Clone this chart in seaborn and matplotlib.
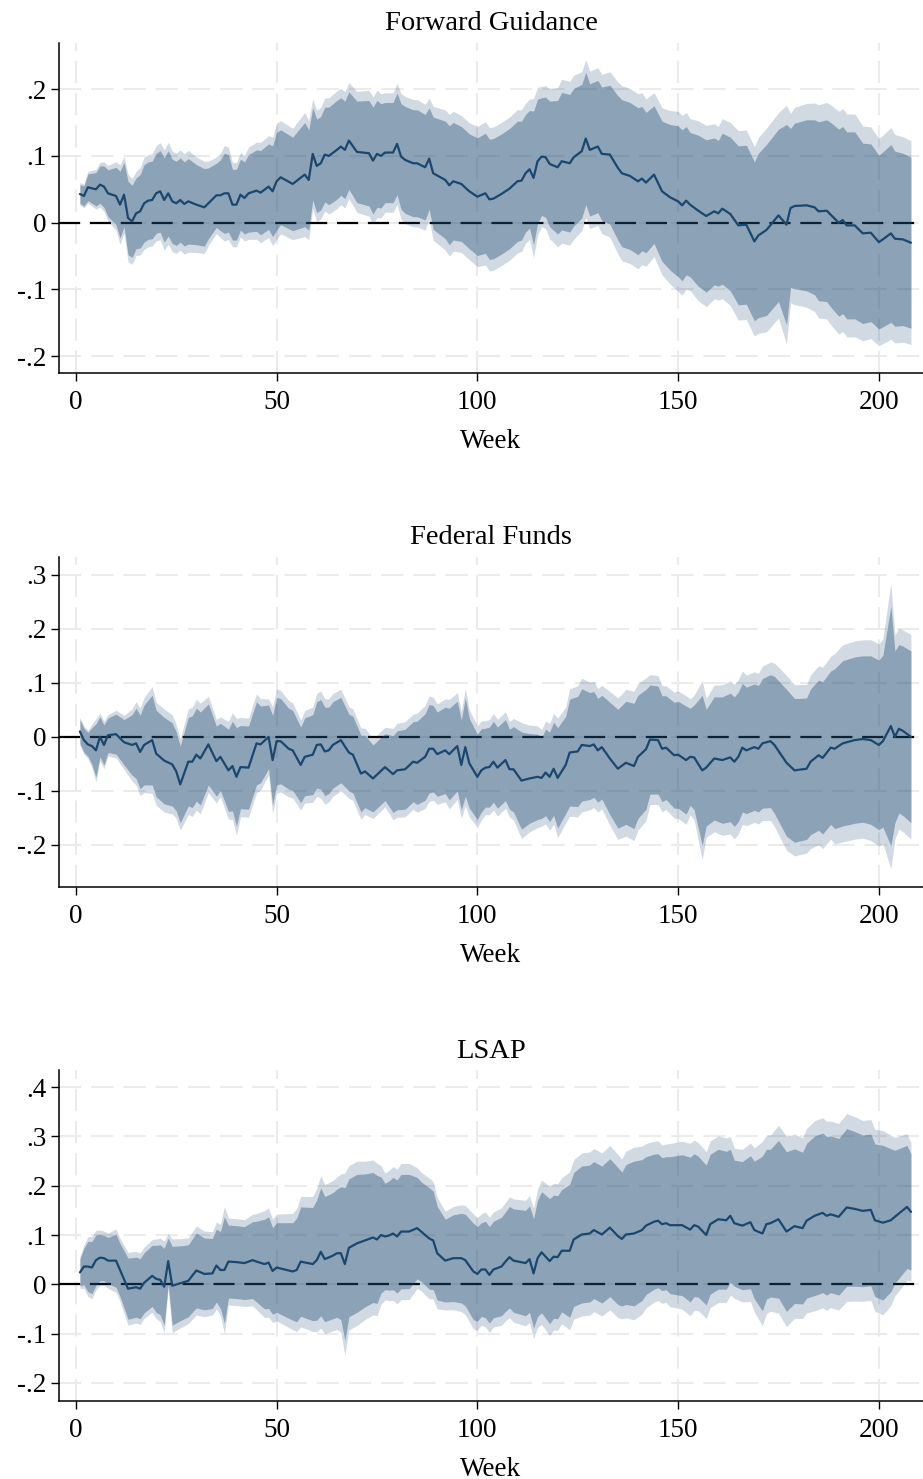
import numpy as np
import matplotlib
matplotlib.use("Agg")
import matplotlib.pyplot as plt
import seaborn as sns

# ---- data: point estimate and 90% half-width ----
fg_week = [1, 2, 3, 5, 6, 7, 8, 10, 11, 12,
           13, 14, 15, 16, 17, 18, 19, 20, 21, 22,
           23, 24, 25, 26, 27, 28, 30, 32, 33, 35,
           36, 37, 38, 39, 40, 41, 42, 43, 45, 46,
           48, 49, 50, 51, 54, 57, 58, 59, 60, 61,
           62, 63, 65, 66, 67, 68, 70, 73, 74, 75,
           76, 77, 79, 80, 81, 82, 84, 85, 87, 88,
           89, 92, 93, 94, 96, 98, 100, 102, 103, 104,
           106, 108, 110, 111, 112, 113, 114, 115, 116, 117,
           118, 120, 121, 123, 124, 126, 127, 128, 130, 131,
           133, 135, 136, 138, 140, 141, 142, 144, 146, 148,
           150, 151, 152, 153, 155, 157, 159, 160, 161, 163,
           165, 167, 169, 170, 172, 175, 177, 178, 179, 182,
           184, 185, 187, 188, 190, 191, 192, 194, 196, 198,
           200, 201, 203, 204, 206, 208]
fg_coef = [.043, .040, .053, .050, .057, .054, .044, .040, .027, .042,
           .007, .002, .014, .017, .029, .033, .034, .044, .047, .034,
           .044, .032, .029, .034, .028, .032, .027, .023, .029, .041,
           .041, .044, .044, .027, .027, .042, .037, .044, .048, .045,
           .054, .047, .062, .068, .058, .072, .064, .103, .085, .089,
           .102, .100, .109, .114, .109, .123, .106, .104, .093, .103,
           .100, .105, .105, .118, .099, .094, .089, .089, .083, .096,
           .074, .064, .056, .062, .058, .047, .039, .044, .035, .036,
           .043, .051, .062, .063, .074, .080, .067, .092, .099, .098,
           .088, .083, .092, .089, .098, .107, .126, .109, .114, .103,
           .102, .082, .074, .070, .062, .066, .060, .072, .047, .038,
           .032, .026, .033, .027, .018, .010, .017, .014, .021, .013,
           -.004, -.003, -.028, -.019, -.011, .011, -.003, .022, .025, .026,
           .023, .017, .018, .012, .000, .004, -.004, -.004, -.016, -.015,
           -.029, -.025, -.016, -.024, -.025, -.030]
fg_ci = [.014, .015, .020, .025, .028, .031, .035, .043, .050, .048,
         .055, .054, .053, .055, .058, .058, .058, .060, .061, .063,
         .064, .063, .063, .063, .063, .064, .060, .058, .053, .048,
         .053, .060, .058, .053, .053, .053, .054, .058, .061, .063,
         .064, .068, .073, .071, .070, .078, .075, .069, .070, .070,
         .071, .073, .074, .073, .073, .073, .076, .079, .080, .080,
         .078, .075, .075, .076, .079, .080, .080, .080, .079, .076,
         .084, .088, .089, .088, .086, .086, .088, .090, .090, .090,
         .090, .090, .090, .089, .088, .088, .100, .093, .088, .090,
         .094, .100, .103, .103, .103, .100, .099, .099, .099, .100,
         .104, .108, .110, .110, .110, .108, .105, .103, .105, .109,
         .113, .113, .111, .108, .113, .114, .110, .109, .113, .115,
         .119, .119, .119, .123, .128, .129, .150, .119, .124, .128,
         .131, .134, .136, .138, .140, .140, .140, .140, .135, .133,
         .130, .131, .133, .131, .129, .128]

ff_week = [1, 2, 3, 4, 5, 6, 7, 8, 10, 12,
           14, 15, 16, 17, 19, 20, 22, 24, 25, 26,
           28, 29, 30, 31, 33, 35, 36, 38, 39, 40,
           41, 43, 45, 46, 48, 49, 50, 51, 53, 54,
           56, 57, 59, 60, 61, 62, 63, 64, 66, 68,
           69, 71, 72, 74, 77, 79, 80, 82, 84, 85,
           87, 88, 89, 90, 92, 93, 95, 96, 97, 98,
           100, 101, 102, 103, 104, 105, 107, 108, 109, 111,
           113, 115, 116, 117, 118, 119, 120, 122, 123, 125,
           126, 128, 129, 130, 131, 133, 135, 137, 139, 140,
           142, 143, 145, 146, 147, 149, 150, 152, 153, 154,
           156, 157, 159, 161, 163, 164, 165, 166, 167, 169,
           170, 171, 173, 174, 177, 179, 182, 183, 185, 186,
           188, 189, 191, 194, 196, 198, 200, 201, 203, 204,
           205, 206, 208]
ff_coef = [.010, -.006, -.014, -.017, -.025, .000, -.015, .003, .005, -.010,
           -.015, -.012, -.028, -.015, -.006, -.031, -.044, -.051, -.064, -.088,
           -.046, -.046, -.033, -.040, -.014, -.045, -.037, -.062, -.054, -.074,
           -.056, -.057, -.012, -.014, .000, -.043, -.008, -.008, -.022, -.025,
           -.052, -.037, -.033, -.015, -.014, -.027, -.025, -.015, -.006, -.029,
           -.033, -.068, -.064, -.077, -.056, -.069, -.062, -.060, -.046, -.048,
           -.037, -.022, -.022, -.032, -.025, -.032, -.017, -.052, -.019, -.049,
           -.074, -.062, -.057, -.056, -.046, -.057, -.043, -.060, -.060, -.081,
           -.077, -.074, -.076, -.066, -.074, -.059, -.076, -.052, -.029, -.027,
           -.015, -.017, -.014, -.025, -.019, -.040, -.059, -.048, -.054, -.037,
           -.023, -.005, -.006, -.022, -.020, -.034, -.033, -.043, -.037, -.038,
           -.062, -.057, -.040, -.043, -.038, -.046, -.037, -.020, -.025, -.019,
           -.022, -.012, -.008, -.015, -.048, -.062, -.059, -.046, -.034, -.039,
           -.020, -.022, -.012, -.006, -.004, -.006, -.015, -.008, .020, .000,
           .015, .011, .000]
ff_ci = [.022, .022, .022, .034, .049, .037, .037, .032, .037, .042,
         .056, .065, .068, .074, .083, .080, .080, .077, .073, .071,
         .082, .085, .086, .086, .075, .065, .062, .076, .083, .091,
         .077, .077, .077, .071, .059, .083, .081, .079, .075, .074,
         .070, .072, .074, .080, .083, .082, .080, .080, .079, .071,
         .071, .071, .067, .062, .062, .071, .073, .074, .074, .077,
         .080, .082, .080, .078, .080, .085, .083, .083, .091, .083,
         .079, .077, .073, .074, .075, .075, .075, .074, .079, .090,
         .083, .079, .075, .080, .083, .086, .093, .090, .099, .102,
         .104, .099, .098, .096, .096, .104, .110, .114, .116, .114,
         .111, .101, .100, .098, .096, .098, .099, .100, .090, .097,
         .139, .108, .114, .117, .119, .120, .120, .119, .117, .117,
         .117, .120, .123, .127, .136, .133, .131, .135, .139, .141,
         .142, .148, .153, .154, .154, .156, .157, .159, .222, .159,
         .156, .157, .159]

ls_week = [1, 2, 3, 4, 5, 6, 7, 8, 10, 11,
           13, 15, 16, 17, 19, 20, 21, 22, 23, 24,
           26, 28, 30, 32, 34, 35, 36, 37, 38, 40,
           42, 44, 45, 47, 48, 49, 50, 52, 54, 55,
           56, 59, 60, 61, 62, 64, 65, 66, 67, 68,
           70, 72, 74, 75, 76, 77, 78, 79, 80, 81,
           83, 85, 86, 88, 89, 90, 92, 94, 96, 97,
           99, 100, 101, 102, 103, 104, 106, 107, 108, 109,
           112, 113, 114, 115, 116, 118, 119, 120, 121, 123,
           124, 126, 128, 129, 131, 133, 135, 136, 137, 139,
           141, 142, 144, 145, 146, 147, 148, 151, 153, 154,
           155, 157, 158, 160, 162, 163, 164, 166, 168, 169,
           171, 172, 173, 175, 177, 179, 181, 182, 184, 186,
           187, 188, 190, 192, 194, 196, 198, 199, 201, 203,
           204, 207, 208]
ls_coef = [.024, .036, .036, .034, .049, .054, .053, .048, .048, .029,
           -.009, -.006, -.009, .003, .017, .011, .009, -.005, .047, -.003,
           .002, .007, .028, .021, .022, .038, .029, .029, .046, .045,
           .043, .049, .046, .041, .044, .027, .034, .030, .026, .029,
           .046, .041, .049, .066, .051, .058, .063, .063, .041, .074,
           .083, .089, .095, .091, .100, .097, .099, .103, .097, .107,
           .107, .114, .107, .093, .089, .063, .048, .053, .053, .049,
           .026, .021, .030, .030, .019, .030, .036, .046, .055, .048,
           .043, .051, .022, .053, .065, .047, .056, .055, .068, .068,
           .091, .101, .103, .110, .101, .115, .098, .092, .101, .103,
           .110, .119, .127, .129, .122, .124, .120, .120, .111, .120,
           .117, .100, .122, .132, .130, .139, .124, .119, .126, .110,
           .103, .122, .124, .132, .107, .118, .114, .129, .139, .145,
           .139, .142, .137, .156, .153, .149, .151, .130, .125, .130,
           .137, .157, .147]
ls_ci = [.027, .037, .051, .053, .051, .047, .046, .047, .054, .054,
         .062, .061, .061, .061, .062, .068, .071, .078, .047, .080,
         .076, .073, .076, .073, .071, .074, .078, .108, .074, .074,
         .074, .078, .082, .091, .093, .088, .091, .095, .099, .105,
         .111, .115, .122, .130, .127, .128, .130, .135, .155, .140,
         .140, .135, .132, .130, .118, .108, .111, .114, .115, .116,
         .116, .103, .101, .103, .100, .095, .084, .088, .091, .093,
         .098, .096, .095, .098, .098, .098, .100, .101, .103, .105,
         .107, .108, .111, .118, .123, .127, .125, .125, .124, .135,
         .136, .139, .139, .139, .139, .140, .139, .136, .142, .147,
         .143, .140, .137, .136, .135, .135, .139, .143, .147, .145,
         .143, .142, .142, .142, .140, .135, .128, .130, .135, .140,
         .157, .152, .150, .160, .162, .157, .154, .157, .162, .162,
         .161, .159, .159, .160, .157, .154, .154, .155, .157, .145,
         .135, .125, .118]

titles = ["Forward Guidance", "Federal Funds", "LSAP"]
yticks = [[-.2, -.1, 0, .1, .2],
          [-.2, -.1, 0, .1, .2, .3],
          [-.2, -.1, 0, .1, .2, .3, .4]]
ylims = [(-0.225, 0.269), (-0.278, 0.333), (-0.237, 0.435)]
xticks = [0, 50, 100, 150, 200]

panels = [(fg_week, fg_coef, fg_ci), (ff_week, ff_coef, ff_ci), (ls_week, ls_coef, ls_ci)]
for w, c, s in panels:
    assert len(w) == len(c) == len(s)

navy = "#1A476F"
wide = 1.96 / 1.645  # 95% band relative to 90% band


def stata_label(v):
    if abs(v) < 1e-9:
        return "0"
    s = f"{v:.1f}"
    return s.replace("0.", ".")


sns.set_style("white")
plt.rcParams["font.family"] = ["Liberation Serif", "DejaVu Serif"]
plt.rcParams["text.color"] = "black"
plt.rcParams["axes.labelcolor"] = "black"

fig = plt.figure(figsize=(9.23, 14.79), dpi=100)
H = 1479.0
W = 923.0
boxes = [(43, 373), (557, 887), (1070, 1401)]  # pixel top/bottom of each plot area

for i, ((week, coef, ci), (top, bot)) in enumerate(zip(panels, boxes)):
    ax = fig.add_axes([59 / W, 1 - bot / H, 1 - 59 / W, (bot - top) / H])
    week = np.array(week)
    coef = np.array(coef)
    ci = np.array(ci)

    ax.set_xlim(-4.2, 211)
    ax.set_ylim(*ylims[i])
    ax.set_yticks(yticks[i])
    ax.set_yticklabels([stata_label(v) for v in yticks[i]])
    ax.set_xticks(xticks)

    ax.grid(True, color="#EBEBEB", linestyle=(0, (11, 5)), linewidth=1.45, zorder=0)
    ax.set_axisbelow(True)
    ax.axhline(0, color="black", linestyle=(0, (9.5, 4.4)), linewidth=1.6, zorder=1)

    ax.fill_between(week, coef - wide * ci, coef + wide * ci, color=navy,
                    alpha=0.2, linewidth=0, zorder=2)
    ax.fill_between(week, coef - ci, coef + ci, color=navy,
                    alpha=0.375, linewidth=0, zorder=3)
    sns.lineplot(x=week, y=coef, ax=ax, color=navy, linewidth=1.6,
                 estimator=None, zorder=4)

    for side in ["top", "right"]:
        ax.spines[side].set_visible(False)
    for side in ["left", "bottom"]:
        ax.spines[side].set_color("black")
        ax.spines[side].set_linewidth(1.1)

    ax.tick_params(axis="both", direction="out", length=6, width=1.0,
                   labelsize=19.5, colors="black", left=True, bottom=True)
    ax.tick_params(axis="y", pad=3)
    ax.tick_params(axis="x", pad=6)
    ax.set_xlabel("Week", fontsize=19.5, labelpad=10, color="black")
    ax.set_ylabel("")
    ax.set_title(titles[i], fontsize=20.5, pad=9, color="black")

fig.savefig("out.png", dpi=100)
